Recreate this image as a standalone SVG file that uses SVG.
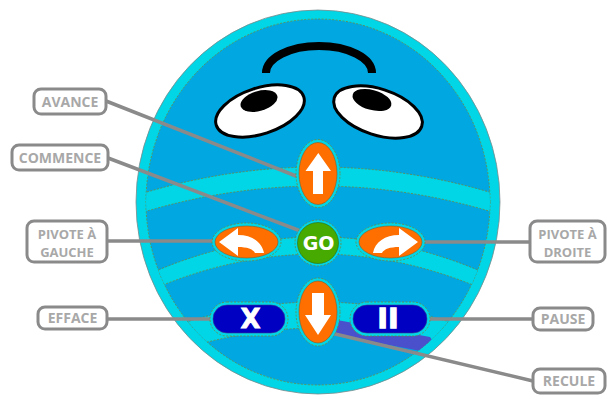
<svg xmlns="http://www.w3.org/2000/svg" width="608" height="396" viewBox="0 0 608 396">
  <style>
    .edge { stroke: #74863c; stroke-width: 0.8; stroke-dasharray: 2 1.5; }
    .cyan { fill: #00d6e6; }
    .deep { fill: #00a7e1; }
    .ring { fill: #00d6e6; stroke: #74863c; stroke-width: 0.8; stroke-dasharray: 2 1.5; }
    .orange { fill: #ff6f00; stroke: #8a5a20; stroke-width: 0.6; }
    .navy { fill: #0000c2; stroke: #3a3a8a; stroke-width: 0.6; }
    .glyph { fill: #ffffff; }
    .btxt { font-family: "DejaVu Sans", "Open Sans", sans-serif; font-weight: bold; fill: #ffffff; text-anchor: middle; }
    .link { stroke: #8a8a8a; stroke-width: 3.5; stroke-linecap: round; fill: none; }
    .tag rect { fill: #ffffff; stroke: #8a8a8a; stroke-width: 3; }
    .tag text { font-family: "Open Sans", "DejaVu Sans", sans-serif; font-weight: bold; font-size: 14px; fill: #a8a8a8; text-anchor: middle; }
    .tag text.two { font-size: 13px; }
  </style>
  <defs>
    <clipPath id="innerClip">
      <ellipse cx="318" cy="202" rx="172" ry="183"/>
    </clipPath>
  </defs>

  <!-- robot body -->
  <g id="body">
    <ellipse class="cyan" cx="318" cy="202" rx="182" ry="192" stroke="#7a8a8a" stroke-width="0.8"/>
    <ellipse class="deep edge" cx="318" cy="202" rx="172" ry="183"/>
    <g clip-path="url(#innerClip)">
      <path class="cyan edge" d="M130,197.2 Q318,136.8 506,197.2 L506,216.2 Q318,155.8 130,216.2 Z"/>
      <path class="cyan edge" d="M130,282.6 Q318,191.4 506,282.6 L506,299.6 Q318,208.4 130,299.6 Z"/>
      <path class="cyan edge" d="M130,342.6 Q318,261.4 506,342.6 L506,368.6 Q318,287.4 130,368.6 Z"/>
      <path fill="#4a4fcc" d="M337,320 L430,337 L434,343 L421,351 L335,335 Z"/>
    </g>
  </g>

  <!-- face -->
  <g id="face">
    <path d="M266,73 A53,27 0 0 1 372,73" fill="none" stroke="#000000" stroke-width="8"/>
    <g transform="rotate(-18 260 111)">
      <ellipse cx="260" cy="111" rx="46" ry="23" fill="#ffffff" stroke="#000000" stroke-width="3"/>
    </g>
    <g transform="rotate(-16 259 101)">
      <ellipse cx="259" cy="101" rx="19" ry="10" fill="#000000"/>
    </g>
    <g transform="rotate(18 378 112)">
      <ellipse cx="378" cy="112" rx="46" ry="23" fill="#ffffff" stroke="#000000" stroke-width="3"/>
    </g>
    <g transform="rotate(16 372 100)">
      <ellipse cx="372" cy="100" rx="20" ry="10" fill="#000000"/>
    </g>
  </g>

  <!-- connectors -->
  <g id="connectors">
    <line class="link" x1="106" y1="101" x2="296" y2="176"/>
    <line class="link" x1="108" y1="158" x2="298" y2="230"/>
    <line class="link" x1="107" y1="241" x2="216" y2="241"/>
    <line class="link" x1="107" y1="319" x2="214" y2="319"/>
    <line class="link" x1="421" y1="242" x2="530" y2="242"/>
    <line class="link" x1="426" y1="319" x2="533" y2="319"/>
    <line class="link" x1="331" y1="333" x2="533" y2="381"/>
  </g>

  <!-- buttons -->
  <g id="btn-forward">
    <ellipse class="ring" cx="318" cy="173.5" rx="22" ry="34"/>
    <ellipse class="orange" cx="318" cy="173.5" rx="19" ry="31"/>
    <path class="glyph" d="M318.3,153 L331,171 L323,171 L323,194 L313,194 L313,171 L305.5,171 Z"/>
  </g>
  <g id="btn-back">
    <ellipse class="ring" cx="318" cy="312" rx="22" ry="34"/>
    <ellipse class="orange" cx="318" cy="312" rx="19" ry="31"/>
    <path class="glyph" d="M318,335 L305,315 L312,315 L312,293 L324,293 L324,315 L331,315 Z"/>
  </g>
  <g id="btn-left">
    <ellipse class="ring" cx="246.5" cy="242" rx="34.5" ry="19"/>
    <ellipse class="orange" cx="246.5" cy="242" rx="31.5" ry="16"/>
    <path class="glyph" d="M219,242 L238,228 L238,235 C252,235 262,242 264,253 L255,253 C253,249 247,247 238,247 L238,256 Z"/>
  </g>
  <g id="btn-go">
    <circle class="ring" cx="318" cy="243" r="23"/>
    <circle cx="318" cy="243" r="20.5" fill="#47aa00" stroke="#2f6a10" stroke-width="0.6"/>
    <text class="btxt" x="318.5" y="250" font-size="19">GO</text>
  </g>
  <g id="btn-right">
    <ellipse class="ring" cx="390.5" cy="242" rx="34.5" ry="19"/>
    <ellipse class="orange" cx="390.5" cy="242" rx="31.5" ry="16"/>
    <path class="glyph" transform="translate(637,0) scale(-1,1)" d="M219,242 L238,228 L238,235 C252,235 262,242 264,253 L255,253 C253,249 247,247 238,247 L238,256 Z"/>
  </g>
  <g id="btn-clear">
    <rect class="ring" x="210" y="302" width="78" height="34" rx="17"/>
    <rect class="navy" x="213" y="305" width="72" height="28" rx="14"/>
    <text class="btxt" x="250.5" y="328" font-size="26" stroke="#ffffff" stroke-width="0.8">X</text>
  </g>
  <g id="btn-pause">
    <rect class="ring" x="350" y="302" width="80" height="34" rx="17"/>
    <rect class="navy" x="353" y="305" width="74" height="28" rx="14"/>
    <text class="btxt" x="388.5" y="328" font-size="26" stroke="#ffffff" stroke-width="1.6" letter-spacing="1">II</text>
  </g>

  <!-- labels -->
  <g id="lbl-avance" class="tag">
    <rect x="34" y="89" width="72" height="25" rx="7"/>
    <text x="70" y="106.5">AVANCE</text>
  </g>
  <g id="lbl-commence" class="tag">
    <rect x="12" y="145" width="96" height="25" rx="7"/>
    <text x="60" y="162.5">COMMENCE</text>
  </g>
  <g id="lbl-gauche" class="tag">
    <rect x="27" y="221" width="80" height="41" rx="7"/>
    <text class="two" x="67" y="238.5">PIVOTE À</text>
    <text class="two" x="67" y="256.5">GAUCHE</text>
  </g>
  <g id="lbl-efface" class="tag">
    <rect x="38" y="307" width="69" height="22" rx="7"/>
    <text x="72.5" y="323">EFFACE</text>
  </g>
  <g id="lbl-droite" class="tag">
    <rect x="530" y="221" width="75" height="41" rx="7"/>
    <text class="two" x="567.5" y="238.5">PIVOTE À</text>
    <text class="two" x="567.5" y="256.5">DROITE</text>
  </g>
  <g id="lbl-pause" class="tag">
    <rect x="533" y="308" width="60" height="22" rx="7"/>
    <text x="563" y="324">PAUSE</text>
  </g>
  <g id="lbl-recule" class="tag">
    <rect x="533" y="369" width="72" height="24" rx="7"/>
    <text x="569" y="386">RECULE</text>
  </g>
</svg>
